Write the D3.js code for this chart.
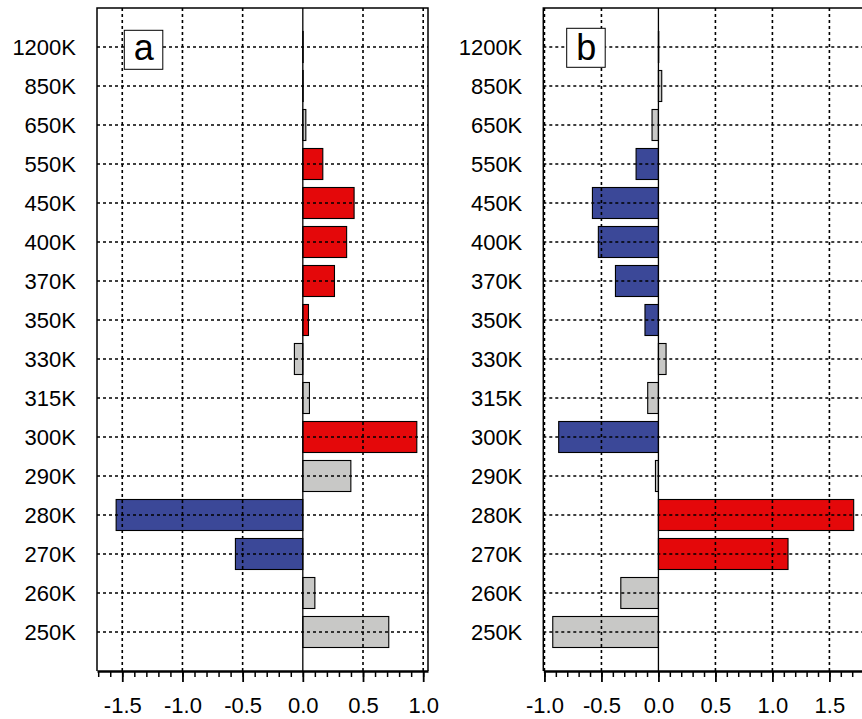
<!DOCTYPE html>
<html>
<head>
<meta charset="utf-8">
<script src="https://cdn.jsdelivr.net/npm/d3@7"></script>
<style>
  body { margin: 0; background: #fff; }
  text { font-family: "Liberation Sans", Arial, sans-serif; fill: #000; }
  .grid { stroke: #000; stroke-width: 1.6; stroke-dasharray: 3,3; fill: none; }
  .frame { stroke: #000; stroke-width: 1.5; fill: none; }
  .bar { stroke: #000; stroke-width: 1.1; }
</style>
</head>
<body>
<div class="chart_wrapper"></div>
<script>

// data
const levels = ["1200K", "850K", "650K", "550K", "450K", "400K", "370K", "350K",
  "330K", "315K", "300K", "290K", "280K", "270K", "260K", "250K"]

const valuesA = [0.003, 0.003, 0.025, 0.166, 0.426, 0.364, 0.263, 0.047,
  -0.07, 0.055, 0.947, 0.399, -1.551, -0.56, 0.1, 0.714]
const signifA = [0, 0, 0, 1, 1, 1, 1, 1, 0, 0, 1, 0, 1, 1, 0, 0]

const valuesB = [0.003, 0.029, -0.056, -0.196, -0.579, -0.527, -0.377, -0.118,
  0.067, -0.094, -0.875, -0.026, 1.713, 1.137, -0.33, -0.927]
const signifB = [0, 0, 0, 1, 1, 1, 1, 1, 0, 0, 1, 0, 1, 1, 0, 0]

const majorTicksA = [-1.5, -1.0, -0.5, 0.0, 0.5, 1.0]
const majorTicksB = [-1.0, -0.5, 0.0, 0.5, 1.0, 1.5]

const colors = { pos: "#e4080a", neg: "#3b4898", none: "#c8c8c6" }

// canvas
const width = 862
const height = 719

const svg = d3.select(".chart_wrapper")
  .append("svg")
    .attr("width", width)
    .attr("height", height)

const yScale = d3.scaleLinear()
  .domain([-1, levels.length])
  .range([8, 671])

const barHeight = 31

function drawPanel(panel) {
  const xScale = d3.scaleLinear()
    .domain(panel.domain)
    .range(panel.range)

  const [x0, x1] = panel.range
  const yTop = yScale.range()[0]
  const yBottom = yScale.range()[1]

  const g = svg.append("g")

  const data = levels.map((lev, i) => ({
    level: lev, value: panel.values[i], sig: panel.signif[i], i: i
  }))

  // bars
  g.selectAll(".bar")
    .data(data)
    .enter().append("rect")
      .attr("class", "bar")
      .attr("x", d => xScale(Math.min(0, d.value)))
      .attr("width", d => Math.abs(xScale(d.value) - xScale(0)))
      .attr("y", d => yScale(d.i) - barHeight / 2)
      .attr("height", barHeight)
      .attr("fill", d => !d.sig ? colors.none : (d.value > 0 ? colors.pos : colors.neg))

  // grid on top of bars
  g.selectAll(".hgrid")
    .data(data)
    .enter().append("line")
      .attr("class", "grid")
      .attr("x1", x0)
      .attr("x2", x1)
      .attr("y1", d => yScale(d.i))
      .attr("y2", d => yScale(d.i))

  g.selectAll(".vgrid")
    .data(panel.majorTicks.filter(t => t !== 0))
    .enter().append("line")
      .attr("class", "grid")
      .attr("x1", d => xScale(d))
      .attr("x2", d => xScale(d))
      .attr("y1", yTop)
      .attr("y2", yBottom)

  // zero line
  g.append("line")
    .attr("x1", xScale(0)).attr("x2", xScale(0))
    .attr("y1", yTop).attr("y2", yBottom)
    .attr("stroke", "#000")
    .attr("stroke-width", 1.3)

  // frame
  g.append("path")
    .attr("class", "frame")
    .attr("d", `M${x0},${yBottom}V${yTop}H${x1}V${yBottom}`)

  // y labels
  g.selectAll(".ylabel")
    .data(data)
    .enter().append("text")
      .attr("x", x0 - 21)
      .attr("y", d => yScale(d.i))
      .attr("dy", "0.36em")
      .attr("text-anchor", "end")
      .style("font-size", "22px")
      .text(d => d.level)

  // x axis: minor ticks
  const minorTicks = d3.range(Math.ceil(panel.domain[0] * 10), Math.floor(panel.domain[1] * 10) + 1)
    .map(v => v / 10)

  g.append("g")
    .attr("transform", `translate(0,${yBottom})`)
    .call(d3.axisBottom(xScale).tickValues(minorTicks).tickSize(6).tickSizeOuter(0).tickFormat(""))
    .call(a => a.select(".domain").remove())
    .selectAll("line").attr("stroke-width", 1.5)

  const xAxis = g.append("g")
    .attr("transform", `translate(0,${yBottom})`)
    .call(d3.axisBottom(xScale)
      .tickValues(panel.majorTicks)
      .tickSize(11)
      .tickSizeOuter(0)
      .tickPadding(15)
      .tickFormat(d => d.toFixed(1)))

  xAxis.select(".domain").attr("stroke-width", 2.4)
  xAxis.selectAll("line").attr("stroke-width", 1.8)
  xAxis.selectAll("text")
    .style("font-size", "22px")
    .style("font-family", "'Liberation Sans', Arial, sans-serif")
  xAxis.attr("font-family", null).attr("font-size", null)

  // panel tag
  const tag = g.append("g")
    .attr("transform", `translate(${panel.tag.x},${panel.tag.y})`)
  tag.append("rect")
    .attr("width", 38.5).attr("height", 39)
    .attr("fill", "#fff").attr("stroke", "#000").attr("stroke-width", 1)
  tag.append("text")
    .attr("x", 19.5).attr("y", panel.tag.base)
    .attr("text-anchor", "middle")
    .style("font-size", "36px")
    .text(panel.name)
}

drawPanel({
  name: "a",
  values: valuesA,
  signif: signifA,
  majorTicks: majorTicksA,
  domain: [-1.71, 1.04],
  range: [97, 428],
  tag: { x: 124.3, y: 30.3, base: 29.5 }
})

drawPanel({
  name: "b",
  values: valuesB,
  signif: signifB,
  majorTicks: majorTicksB,
  domain: [-1.01, 1.8],
  range: [543.3, 863.6],
  tag: { x: 566.7, y: 28.3, base: 31.5 }
})

</script>
</body>
</html>
